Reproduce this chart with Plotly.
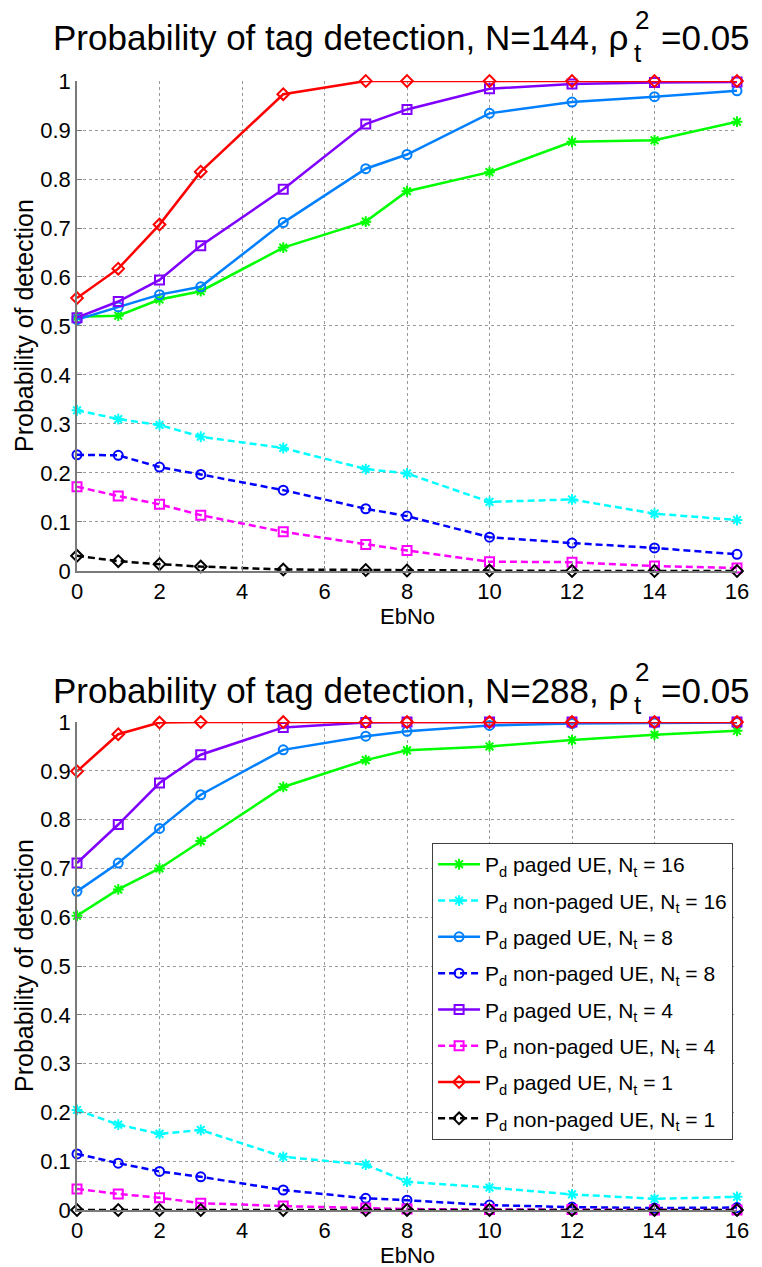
import plotly.graph_objects as go
from plotly.subplots import make_subplots

# Eb/No sample points (dB)
ebno = [0, 1, 2, 3, 5, 7, 8, 10, 12, 14, 16]

# N = 144
pd_paged_16_n144 = [0.519, 0.521, 0.554, 0.571, 0.660, 0.713, 0.775, 0.814, 0.876, 0.879, 0.917]
pd_nonpaged_16_n144 = [0.328, 0.310, 0.298, 0.274, 0.251, 0.208, 0.199, 0.141, 0.146, 0.117, 0.104]
pd_paged_8_n144 = [0.513, 0.539, 0.564, 0.580, 0.711, 0.821, 0.850, 0.934, 0.957, 0.968, 0.980]
pd_nonpaged_8_n144 = [0.237, 0.236, 0.212, 0.197, 0.165, 0.127, 0.112, 0.069, 0.057, 0.047, 0.034]
pd_paged_4_n144 = [0.517, 0.550, 0.594, 0.664, 0.779, 0.912, 0.942, 0.984, 0.994, 0.997, 0.998]
pd_nonpaged_4_n144 = [0.172, 0.153, 0.136, 0.114, 0.080, 0.054, 0.042, 0.019, 0.018, 0.010, 0.006]
pd_paged_1_n144 = [0.557, 0.617, 0.707, 0.815, 0.973, 1.0, 1.0, 1.0, 1.0, 1.0, 1.0]
pd_nonpaged_1_n144 = [0.031, 0.020, 0.014, 0.009, 0.003, 0.002, 0.001, 0.001, 0.0, 0.0, 0.0]

# N = 288
pd_paged_16_n288 = [0.603, 0.657, 0.700, 0.756, 0.867, 0.922, 0.942, 0.950, 0.963, 0.974, 0.982]
pd_nonpaged_16_n288 = [0.205, 0.175, 0.156, 0.164, 0.109, 0.093, 0.058, 0.046, 0.032, 0.023, 0.027]
pd_paged_8_n288 = [0.653, 0.711, 0.782, 0.851, 0.943, 0.971, 0.981, 0.993, 0.997, 0.998, 0.999]
pd_nonpaged_8_n288 = [0.115, 0.096, 0.079, 0.068, 0.041, 0.024, 0.020, 0.010, 0.006, 0.004, 0.005]
pd_paged_4_n288 = [0.711, 0.790, 0.875, 0.933, 0.989, 0.999, 1.0, 1.0, 1.0, 1.0, 1.0]
pd_nonpaged_4_n288 = [0.043, 0.033, 0.025, 0.014, 0.008, 0.004, 0.002, 0.001, 0.001, 0.0, 0.0]
pd_paged_1_n288 = [0.899, 0.975, 0.999, 1.0, 1.0, 1.0, 1.0, 1.0, 1.0, 1.0, 1.0]
pd_nonpaged_1_n288 = [0.0, 0.0, 0.0, 0.0, 0.0, 0.0, 0.0, 0.0, 0.0, 0.0, 0.0]

series_names = [
    "P<sub>d</sub> paged UE, N<sub>t</sub> = 16",
    "P<sub>d</sub> non-paged UE, N<sub>t</sub> = 16",
    "P<sub>d</sub> paged UE, N<sub>t</sub> = 8",
    "P<sub>d</sub> non-paged UE, N<sub>t</sub> = 8",
    "P<sub>d</sub> paged UE, N<sub>t</sub> = 4",
    "P<sub>d</sub> non-paged UE, N<sub>t</sub> = 4",
    "P<sub>d</sub> paged UE, N<sub>t</sub> = 1",
    "P<sub>d</sub> non-paged UE, N<sub>t</sub> = 1",
]
top_series = [pd_paged_16_n144, pd_nonpaged_16_n144, pd_paged_8_n144, pd_nonpaged_8_n144,
              pd_paged_4_n144, pd_nonpaged_4_n144, pd_paged_1_n144, pd_nonpaged_1_n144]
bottom_series = [pd_paged_16_n288, pd_nonpaged_16_n288, pd_paged_8_n288, pd_nonpaged_8_n288,
                 pd_paged_4_n288, pd_nonpaged_4_n288, pd_paged_1_n288, pd_nonpaged_1_n288]

colors = ["#00FF00", "#00FFFF", "#0080FF", "#0000FF", "#8000FF", "#FF00FF", "#FF0000", "#000000"]
symbols = ["asterisk-open", "asterisk-open", "circle-open", "circle-open",
           "square-open", "square-open", "diamond-open", "diamond-open"]
dashes = ["solid", "7px,4px", "solid", "7px,4px", "solid", "7px,4px", "solid", "7px,4px"]

FONT = "Liberation Sans, Arial, sans-serif"

fig = make_subplots(rows=2, cols=1)

for row, data in ((1, top_series), (2, bottom_series)):
    for i, ys in enumerate(data):
        fig.add_trace(go.Scatter(
            x=ebno, y=ys, mode="lines+markers", name=series_names[i],
            legendgroup="g%d" % i, showlegend=(row == 2),
            line=dict(color=colors[i], width=2.5, dash=dashes[i]),
            marker=dict(symbol=symbols[i], size=9, color=colors[i],
                        line=dict(color=colors[i], width=2)),
            cliponaxis=False,
        ), row=row, col=1)

axis_style = dict(
    showline=True, linecolor="#7a7a7a", linewidth=1.5,
    showgrid=True, gridcolor="#9a9a9a", griddash="dot", gridwidth=1,
    ticks="inside", ticklen=5, tickcolor="#7a7a7a", zeroline=False,
    tickfont=dict(family=FONT, size=22, color="#000000"),
)
fig.update_xaxes(**axis_style, range=[0, 16], tickmode="array",
                 tickvals=[0, 2, 4, 6, 8, 10, 12, 14, 16])
fig.update_yaxes(**axis_style, range=[0, 1], dtick=0.1, tick0=0)

fig.update_layout(
    width=762, height=1267,
    margin=dict(l=77, r=25, t=81, b=57),
    paper_bgcolor="white", plot_bgcolor="white",
    xaxis=dict(domain=[0, 1], anchor="y"),
    yaxis=dict(domain=[0.566, 1.0], anchor="x"),
    xaxis2=dict(domain=[0, 1], anchor="y2"),
    yaxis2=dict(domain=[0.0, 0.4322], anchor="x2"),
    legend=dict(
        x=0.538, y=0.325, xanchor="left", yanchor="top",
        bgcolor="white", bordercolor="#404040", borderwidth=1,
        font=dict(family=FONT, size=21, color="#000000"),
        itemwidth=42, tracegroupgap=6,
    ),
    showlegend=True,
)

# Pixel helpers for the paper coordinate system
def px_x(px):
    return (px - 77) / 660.0

def px_y(py):
    return (1210 - py) / 1129.0

annotations = []
for title_n, ty in (("144", 38), ("288", 690)):
    annotations += [
        dict(text="Probability of tag detection, N=%s, ρ" % title_n,
             x=px_x(630), y=px_y(ty), xanchor="right", yanchor="middle",
             font=dict(family=FONT, size=35, color="#000000")),
        dict(text="t", x=px_x(632), y=px_y(ty + 15), xanchor="left", yanchor="middle",
             font=dict(family=FONT, size=26, color="#000000")),
        dict(text="2", x=px_x(633), y=px_y(ty - 18), xanchor="left", yanchor="middle",
             font=dict(family=FONT, size=26, color="#000000")),
        dict(text="=0.05", x=px_x(659), y=px_y(ty), xanchor="left", yanchor="middle",
             font=dict(family=FONT, size=35, color="#000000")),
    ]

for cy, xlab_y in ((326, 616), (966, 1255)):
    annotations.append(dict(text="Probability of detection", x=px_x(24), y=px_y(cy),
                            textangle=-90, xanchor="center", yanchor="middle",
                            font=dict(family=FONT, size=25, color="#000000")))
    annotations.append(dict(text="EbNo", x=px_x(407), y=px_y(xlab_y),
                            xanchor="center", yanchor="middle",
                            font=dict(family=FONT, size=22, color="#000000")))

for a in annotations:
    a.update(xref="paper", yref="paper", showarrow=False)
fig.update_layout(annotations=annotations)

fig.write_html("out.html")
